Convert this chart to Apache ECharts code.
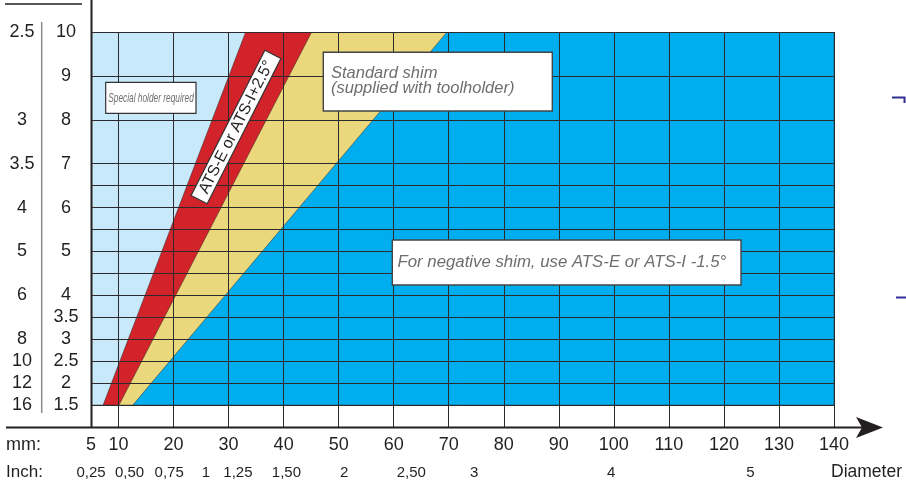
<!DOCTYPE html>
<html>
<head>
<meta charset="utf-8">
<script src="https://cdn.jsdelivr.net/npm/echarts@6/dist/echarts.min.js"></script>
<style>
html,body{margin:0;padding:0;background:#ffffff;}
#chart{width:906px;height:483px;}
</style>
</head>
<body>
<div id="chart"></div>
<script>
// ---------- DATA ----------
// Diameter axis (mm)
const xMin = 5;
const xMax = 140;
const mmTickValues = [5, 10, 20, 30, 40, 50, 60, 70, 80, 90, 100, 110, 120, 130, 140];
const xGridValues = [10, 20, 30, 40, 50, 60, 70, 80, 90, 100, 110, 120, 130, 140];
// Inch labels and where they sit on the mm scale
const inchLabels = ['0,25', '0,50', '0,75', '1', '1,25', '1,50', '2', '2,50', '3', '4', '5'];
const inchPositionsMm = [5, 12, 19.2, 25.9, 31.7, 40.5, 51, 63.2, 74.6, 99.5, 124.8];

// Pitch rows (row index, 0 = bottom row, 17 = top)
const yMin = -1;
const yMax = 17;
const rowLines = [0, 1, 2, 3, 4, 5, 6, 7, 8, 9, 10, 11, 13, 15, 17];
const pitchMmLabels = ['10', '9', '8', '7', '6', '5', '4', '3.5', '3', '2.5', '2', '1.5'];
const pitchMmRows = [17, 15, 13, 11, 9, 7, 5, 4, 3, 2, 1, 0];
const tpiLabels = ['2.5', '3', '3.5', '4', '5', '6', '8', '10', '12', '16'];
const tpiRows = [17, 13, 11, 9, 7, 5, 3, 2, 1, 0];

// Zone left boundaries: diameter (mm) at bottom row and at top row
const zoneNames = ['Special holder required', 'ATS-E or ATS-I+2.5°', 'Standard shim', 'For negative shim'];
const zoneBottomMm = [5, 7.2, 10.1, 12.6];
const zoneTopMm = [5, 33.1, 45.1, 69.7];

// ---------- STYLE ----------
const zoneColors = ['#c8e9f9', '#d2232a', '#ebd87c', '#00aeef'];
const ink = '#231f20';
const FONT = 'Liberation Sans, Arial, Helvetica, sans-serif';

const chart = echarts.init(document.getElementById('chart'), null, {renderer: 'canvas'});

function labelFor(values, labels) {
  return function (v) {
    const i = values.findIndex(function (p) { return Math.abs(p - v) < 1e-6; });
    return i >= 0 ? labels[i] : '';
  };
}

const zoneData = zoneBottomMm.map(function (b, i) { return [b, zoneTopMm[i]]; });

const option = {
  animation: false,
  backgroundColor: '#ffffff',
  grid: {left: 91, right: 72, top: 32, bottom: 56, containLabel: false},
  xAxis: [
    {
      type: 'value', min: xMin, max: xMax, position: 'bottom',
      axisLine: {show: false}, axisTick: {show: false}, splitLine: {show: false},
      axisLabel: {
        customValues: mmTickValues, fontSize: 18, color: ink, margin: 9,
        fontFamily: FONT, formatter: function (v) { return String(v); }
      }
    },
    {
      type: 'value', min: xMin, max: xMax, position: 'bottom', offset: 0,
      axisLine: {show: false}, axisTick: {show: false}, splitLine: {show: false},
      axisLabel: {
        customValues: inchPositionsMm, fontSize: 15, color: ink, margin: 38,
        fontFamily: FONT, formatter: labelFor(inchPositionsMm, inchLabels)
      }
    }
  ],
  yAxis: [
    {
      type: 'value', min: yMin, max: yMax, position: 'left',
      axisLine: {show: false}, axisTick: {show: false}, splitLine: {show: false},
      axisLabel: {
        customValues: pitchMmRows, fontSize: 18, color: ink, margin: 25, align: 'center',
        fontFamily: FONT, formatter: labelFor(pitchMmRows, pitchMmLabels)
      }
    },
    {
      type: 'value', min: yMin, max: yMax, position: 'left', offset: 0,
      axisLine: {show: false}, axisTick: {show: false}, splitLine: {show: false},
      axisLabel: {
        customValues: tpiRows, fontSize: 18, color: ink, margin: 69, align: 'center',
        fontFamily: FONT, formatter: labelFor(tpiRows, tpiLabels)
      }
    }
  ],
  series: [
    {
      type: 'custom',
      name: 'zones',
      xAxisIndex: 0, yAxisIndex: 0,
      clip: true,
      silent: true,
      z: 1,
      data: zoneData,
      renderItem: function (params, api) {
        const b = api.value(0), t = api.value(1);
        const pts = [
          api.coord([b, 0]), api.coord([t, yMax]),
          api.coord([xMax, yMax]), api.coord([xMax, 0])
        ];
        return {
          type: 'polygon',
          shape: {points: pts},
          style: {fill: zoneColors[params.dataIndex], stroke: 'rgba(40,40,40,0.7)', lineWidth: 0.7}
        };
      }
    },
    {
      type: 'line',
      name: 'grid',
      xAxisIndex: 0, yAxisIndex: 0,
      data: [],
      silent: true,
      z: 3,
      markLine: {
        silent: true,
        symbol: ['none', 'none'],
        label: {show: false},
        emphasis: {disabled: true},
        animation: false,
        lineStyle: {color: '#2b2b2b', width: 1, type: 'solid'},
        data: xGridValues.map(function (v) { return {xAxis: v}; })
          .concat(rowLines.map(function (v) { return {yAxis: v}; }))
      }
    }
  ],
  graphic: [
    // left axis line (extends above the plot)
    {type: 'line', z: 10, shape: {x1: 91.5, y1: 0, x2: 91.5, y2: 428}, style: {stroke: ink, lineWidth: 2}},
    // diameter axis with arrow
    {type: 'line', z: 10, shape: {x1: 6, y1: 427.5, x2: 862, y2: 427.5}, style: {stroke: ink, lineWidth: 2}},
    {type: 'polygon', z: 10, shape: {points: [[856, 417], [883, 427.5], [856, 438], [862, 427.5]]}, style: {fill: ink}},
    // separator between TPI and mm columns
    {type: 'line', z: 10, shape: {x1: 41.7, y1: 22, x2: 41.7, y2: 413}, style: {stroke: '#8c8c8c', lineWidth: 1.5}},
    // header (cut off at the top)
    {type: 'line', z: 10, shape: {x1: 5, y1: 4, x2: 82, y2: 4}, style: {stroke: ink, lineWidth: 1.5}},
    {type: 'text', z: 10, x: 22, y: 4.5, style: {text: 'TPI', font: '18px ' + FONT, fill: ink, align: 'center', textAlign: 'center', verticalAlign: 'bottom', textVerticalAlign: 'bottom'}},
    {type: 'text', z: 10, x: 62, y: 4.5, style: {text: 'mm', font: '18px ' + FONT, fill: ink, align: 'center', textAlign: 'center', verticalAlign: 'bottom', textVerticalAlign: 'bottom'}},
    // axis captions
    {type: 'text', z: 10, x: 6, y: 445.5, style: {text: 'mm:', font: '18px ' + FONT, fill: ink, align: 'left', textAlign: 'left', verticalAlign: 'middle', textVerticalAlign: 'middle'}},
    {type: 'text', z: 10, x: 6, y: 472.5, style: {text: 'Inch:', font: '17px ' + FONT, fill: ink, align: 'left', textAlign: 'left', verticalAlign: 'middle', textVerticalAlign: 'middle'}},
    {type: 'text', z: 10, x: 831, y: 472.5, style: {text: 'Diameter', font: '17.5px ' + FONT, fill: ink, align: 'left', textAlign: 'left', verticalAlign: 'middle', textVerticalAlign: 'middle'}},
    // Special holder required box
    {type: 'rect', z: 10, shape: {x: 105.7, y: 82.3, width: 90.3, height: 31}, style: {fill: '#ffffff', stroke: '#333333', lineWidth: 1.2}},
    {type: 'text', z: 11, x: 151, y: 98, scaleX: 0.64, style: {text: zoneNames[0], font: 'italic 13px ' + FONT, fill: '#707070', align: 'center', textAlign: 'center', verticalAlign: 'middle', textVerticalAlign: 'middle'}},
    // rotated ATS box
    {
      type: 'group', z: 10, x: 236, y: 127, rotation: 63.1 * Math.PI / 180,
      children: [
        {type: 'rect', z: 10, shape: {x: -81.5, y: -9, width: 163, height: 18}, style: {fill: '#ffffff', stroke: '#333333', lineWidth: 1.2}},
        {type: 'text', z: 11, x: 0, y: 0.5, style: {text: zoneNames[1], font: '16px ' + FONT, fill: ink, align: 'center', textAlign: 'center', verticalAlign: 'middle', textVerticalAlign: 'middle'}}
      ]
    },
    // Standard shim box
    {type: 'rect', z: 10, shape: {x: 323.3, y: 52.3, width: 229, height: 58.7}, style: {fill: '#ffffff', stroke: '#444444', lineWidth: 1.4}},
    {type: 'text', z: 11, x: 331, y: 81, style: {text: 'Standard shim\n(supplied with toolholder)', font: 'italic 16.5px ' + FONT, lineHeight: 15.5, fill: '#6d6e71', align: 'left', textAlign: 'left', verticalAlign: 'middle', textVerticalAlign: 'middle'}},
    // Negative shim box
    {type: 'rect', z: 10, shape: {x: 392.3, y: 240, width: 348.7, height: 45}, style: {fill: '#ffffff', stroke: '#444444', lineWidth: 1.4}},
    {type: 'text', z: 11, x: 397.5, y: 262.5, style: {text: 'For negative shim, use ATS-E or ATS-I -1.5°', font: 'italic 16.8px ' + FONT, fill: '#6d6e71', align: 'left', textAlign: 'left', verticalAlign: 'middle', textVerticalAlign: 'middle'}},
    // small marks at right edge
    {type: 'polyline', z: 10, shape: {points: [[892, 97.5], [904.5, 97.5], [904.5, 103]]}, style: {stroke: '#2e3192', lineWidth: 2, fill: null}},
    {type: 'line', z: 10, shape: {x1: 896, y1: 297.5, x2: 906, y2: 297.5}, style: {stroke: '#2e3192', lineWidth: 2}}
  ]
};

chart.setOption(option);
</script>
</body>
</html>
